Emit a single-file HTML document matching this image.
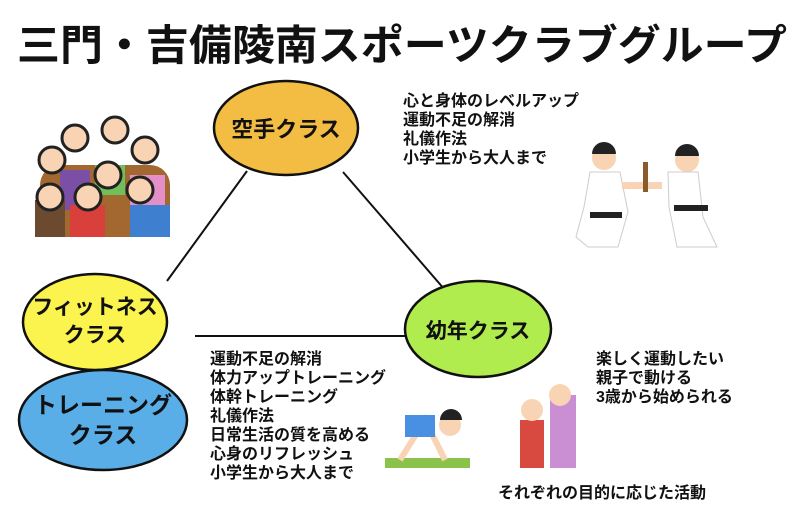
<!DOCTYPE html>
<html><head><meta charset="utf-8"><style>
html,body{margin:0;padding:0;background:#fff;width:800px;height:511px;overflow:hidden}
svg text{font-family:"Liberation Sans","Noto Sans CJK JP",sans-serif;font-weight:bold;fill:#111}
</style></head><body>
<svg width="800" height="511" viewBox="0 0 800 511" xmlns="http://www.w3.org/2000/svg">
<text x="402" y="60" font-size="42" text-anchor="middle" textLength="770" lengthAdjust="spacingAndGlyphs">三門・吉備陵南スポーツクラブグループ</text>
<g stroke="#111" stroke-width="2">
<line x1="247" y1="171" x2="167" y2="281"/>
<line x1="343" y1="172" x2="445" y2="290"/>
<line x1="195" y1="336" x2="410" y2="336"/>
</g>
<g stroke="#111" stroke-width="2.5">
<ellipse cx="286" cy="128" rx="72" ry="47" fill="#f3bd44"/>
<ellipse cx="95" cy="322" rx="72" ry="48" fill="#fbf34e"/>
<ellipse cx="103" cy="420" rx="84" ry="50" fill="#5aaee8"/>
<ellipse cx="478" cy="329" rx="73" ry="48" fill="#b1ec4e"/>
</g>
<text x="286" y="137" font-size="22" text-anchor="middle">空手クラス</text>
<text x="95" y="314" font-size="21" text-anchor="middle">フィットネス</text>
<text x="95" y="342" font-size="21" text-anchor="middle">クラス</text>
<text x="103" y="413" font-size="23" text-anchor="middle">トレーニング</text>
<text x="103" y="443" font-size="23" text-anchor="middle">クラス</text>
<text x="478" y="338" font-size="21" text-anchor="middle">幼年クラス</text>
<g font-size="16">
<text x="403" y="106">心と身体のレベルアップ</text>
<text x="403" y="125">運動不足の解消</text>
<text x="403" y="144">礼儀作法</text>
<text x="403" y="163">小学生から大人まで</text>
<text x="210" y="364">運動不足の解消</text>
<text x="210" y="383">体力アップトレーニング</text>
<text x="210" y="402">体幹トレーニング</text>
<text x="210" y="421">礼儀作法</text>
<text x="210" y="440">日常生活の質を高める</text>
<text x="210" y="459">心身のリフレッシュ</text>
<text x="210" y="478">小学生から大人まで</text>
<text x="596" y="364">楽しく運動したい</text>
<text x="596" y="383">親子で動ける</text>
<text x="596" y="402">3歳から始められる</text>
<text x="498" y="498">それぞれの目的に応じた活動</text>
</g>
<!-- crowd -->
<g>
<rect x="40" y="165" width="130" height="72" rx="20" fill="#a3682f"/>
<rect x="60" y="170" width="30" height="40" fill="#7b4fa6"/>
<rect x="95" y="165" width="30" height="30" fill="#6fbf5a"/>
<rect x="130" y="175" width="35" height="35" fill="#e58fc8"/>
<rect x="70" y="205" width="35" height="32" fill="#d9403b"/>
<rect x="130" y="205" width="40" height="32" fill="#3e7fd0"/>
<rect x="35" y="200" width="30" height="37" fill="#6b4a2f"/>
<g fill="#f8d4b4" stroke="#222" stroke-width="3">
<circle cx="75" cy="138" r="13"/><circle cx="115" cy="130" r="13"/><circle cx="145" cy="150" r="13"/>
<circle cx="52" cy="160" r="13"/><circle cx="108" cy="175" r="13"/><circle cx="50" cy="197" r="13"/>
<circle cx="88" cy="197" r="13"/><circle cx="140" cy="190" r="13"/>
</g>
</g>
<!-- karate -->
<g>
<circle cx="604" cy="158" r="12" fill="#f8d4b4"/><path d="M592 154a12 12 0 0 1 24 0z" fill="#222"/>
<circle cx="687" cy="160" r="12" fill="#f8d4b4"/><path d="M675 156a12 12 0 0 1 24 0z" fill="#222"/>
<path d="M590 172h30l8 40-10 35h-30l-12-10 8-30z" fill="#fff" stroke="#ccc"/>
<path d="M668 172h30l5 45 14 30h-40l-8-40z" fill="#fff" stroke="#ccc"/>
<rect x="590" y="212" width="32" height="6" fill="#222"/>
<rect x="674" y="205" width="34" height="6" fill="#222"/>
<rect x="622" y="182" width="40" height="7" fill="#f8d4b4"/>
<rect x="643" y="162" width="5" height="30" fill="#8b5a2b"/>
</g>
<!-- yoga boy -->
<rect x="385" y="458" width="85" height="10" fill="#8bc34a"/>
<path d="M400 460l25-40 20 40" stroke="#f8d4b4" stroke-width="6" fill="none"/>
<rect x="405" y="415" width="30" height="22" fill="#4a90e2"/>
<circle cx="450" cy="425" r="11" fill="#f8d4b4"/><path d="M440 420a11 11 0 0 1 22 0z" fill="#222"/>
<!-- parent child -->
<rect x="520" y="420" width="24" height="48" fill="#d84a40"/>
<circle cx="532" cy="410" r="11" fill="#f8d4b4"/>
<rect x="550" y="395" width="26" height="73" fill="#c98fd2"/>
<circle cx="560" cy="395" r="11" fill="#f8d4b4"/>
</svg>
</body></html>
